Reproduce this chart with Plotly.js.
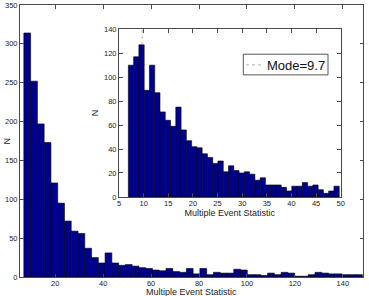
<!DOCTYPE html>
<html>
<head>
<meta charset="utf-8">
<script src="https://cdn.plot.ly/plotly-3.0.1.min.js"></script>
<style>
  html, body { margin: 0; padding: 0; background: #fff; }
  #chart { width: 369px; height: 296px; }
</style>
</head>
<body>
<div id="chart"></div>
<script>
// Full-range histogram of the multiple event statistic (50 equal bins)
const fullBinStart = 6.9;
const fullBinWidth = 2.825;
const fullCounts = [
  314, 252, 197, 173, 121, 95, 72, 59, 56, 37,
  25, 18, 31, 18, 15, 16, 14, 12, 11, 9,
  8, 11, 7, 6, 11, 4, 11, 3, 6, 5,
  5, 10, 9, 3, 3, 2, 5, 3, 6, 5,
  1, 1, 3, 6, 5, 4, 4, 3, 3, 3
];

// Inset: events below 50, finer bins (40 equal bins)
const zoomBinStart = 6.9;
const zoomBinWidth = 1.07;
const zoomCounts = [
  110, 117, 127, 89, 110, 87, 71, 64, 59, 75,
  56, 47, 42, 41, 36, 33, 28, 30, 21, 26,
  22, 20, 21, 19, 14, 16, 10, 10, 10, 8,
  5, 9, 9, 12, 9, 10, 6, 3, 5, 9
];

const modeValue = 9.7;
const modeLabel = 'Mode=9.7';

const mainXTicks = [20, 40, 60, 80, 100, 120, 140];
const mainYTicks = [0, 50, 100, 150, 200, 250, 300, 350];
const insetXTicks = [5, 10, 15, 20, 25, 30, 35, 40, 45, 50];
const insetYTicks = [0, 20, 40, 60, 80, 100, 120, 140];

const xTitle = 'Multiple Event Statistic';
const yTitle = 'N';

// bin centres from the bin edges
function centres(start, width, n) {
  const c = [];
  for (let i = 0; i < n; i++) c.push(start + width * (i + 0.5));
  return c;
}

const barColor = '#00008f';
const axisColor = '#4a4a4a';
const tickSize = 7.5;
const titleSize = 9;
const W = 369, H = 296;
const M = { l: 20, r: 6, t: 5, b: 18.5 };
const plotW = W - M.l - M.r, plotH = H - M.t - M.b;
// pixel -> paper fraction helpers for layout furniture
const px = v => (v - M.l) / plotW;
const py = v => (H - M.b - v) / plotH;

const insetRange = [0, 140];
const modeBin = Math.floor((modeValue - zoomBinStart) / zoomBinWidth);

const traces = [
  {
    type: 'bar', xaxis: 'x', yaxis: 'y',
    x: centres(fullBinStart, fullBinWidth, fullCounts.length),
    y: fullCounts, width: fullBinWidth,
    marker: { color: barColor, line: { color: '#000', width: 0.6 } },
    hoverinfo: 'skip'
  },
  {
    type: 'bar', xaxis: 'x2', yaxis: 'y2',
    x: centres(zoomBinStart, zoomBinWidth, zoomCounts.length),
    y: zoomCounts, width: zoomBinWidth,
    marker: { color: barColor, line: { color: '#000', width: 0.6 } },
    hoverinfo: 'skip'
  },
  {
    // mode marker, visible above the modal bar
    type: 'scatter', mode: 'lines', xaxis: 'x2', yaxis: 'y2',
    x: [modeValue, modeValue],
    y: [zoomCounts[modeBin], insetRange[1]],
    line: { color: '#b0b0b0', width: 1, dash: 'dot' },
    hoverinfo: 'skip'
  }
];

function axisStyle(extra) {
  return Object.assign({
    ticks: 'inside', ticklen: 3.5, tickwidth: 1, tickcolor: axisColor,
    showline: true, linecolor: axisColor, linewidth: 1, mirror: 'ticks',
    showgrid: false, zeroline: false, fixedrange: true,
    tickfont: { size: tickSize, color: '#222' }
  }, extra);
}

const layout = {
  width: W, height: H,
  margin: M,
  paper_bgcolor: '#fff', plot_bgcolor: '#fff',
  showlegend: false,
  bargap: 0,
  font: { family: 'Liberation Sans, Arial, sans-serif', size: titleSize, color: '#222' },
  xaxis: axisStyle({
    domain: [0, 1], range: [5.3, 148.4], tickvals: mainXTicks,
    ticklabelstandoff: -1
  }),
  yaxis: axisStyle({
    domain: [0, 1], range: [0, 350], tickvals: mainYTicks
  }),
  xaxis2: axisStyle({
    anchor: 'y2', domain: [px(119), px(340.7)], range: [5, 50], tickvals: insetXTicks,
    ticklabelstandoff: -1,
    title: { text: xTitle, font: { size: titleSize }, standoff: 0 }
  }),
  yaxis2: axisStyle({
    anchor: 'x2', domain: [py(197.3), py(29.3)], range: insetRange, tickvals: insetYTicks,
    title: { text: yTitle, font: { size: titleSize }, standoff: 3 }
  }),
  shapes: [
    {
      type: 'rect', xref: 'paper', yref: 'paper',
      x0: px(243.3), x1: px(328), y0: py(75), y1: py(54.3),
      line: { color: '#555', width: 1 }, fillcolor: '#fff'
    },
    {
      type: 'line', xref: 'paper', yref: 'paper',
      x0: px(246), x1: px(263), y0: py(65), y1: py(65),
      line: { color: '#b0b0b0', width: 1, dash: 'dot' }
    }
  ],
  annotations: [
    {
      // main x-axis title, set tight under the tick labels
      xref: 'paper', yref: 'paper', x: 0.5, y: py(292.6),
      xanchor: 'center', yanchor: 'middle', showarrow: false, borderpad: 0,
      text: xTitle, font: { size: titleSize, color: '#222' }
    },
    {
      // main y-axis title, at the left edge of the figure
      xref: 'paper', yref: 'paper', x: px(0.5), y: 0.5,
      xanchor: 'left', yanchor: 'middle', showarrow: false, borderpad: 0,
      textangle: -90,
      text: yTitle, font: { size: titleSize, color: '#222' }
    },
    {
      xref: 'paper', yref: 'paper', x: px(265), y: py(65.3),
      xanchor: 'left', yanchor: 'middle', showarrow: false,
      text: modeLabel, font: { size: 13, color: '#111' }
    }
  ]
};

Plotly.newPlot('chart', traces, layout, { staticPlot: true, displayModeBar: false });
</script>
</body>
</html>
